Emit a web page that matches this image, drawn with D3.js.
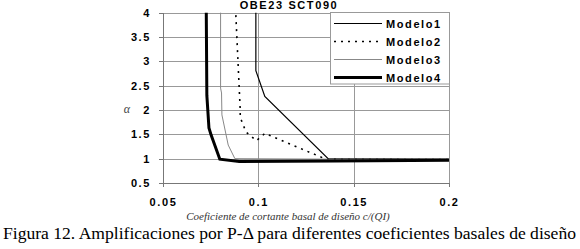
<!DOCTYPE html>
<html>
<head>
<meta charset="utf-8">
<script src="https://cdn.jsdelivr.net/npm/d3@7"></script>
<style>
body { margin: 0; background: white; }
.axis path, .axis line { stroke: #777; shape-rendering: crispEdges; }
.axis text {
  font-family: "Liberation Sans", Arial, sans-serif;
  font-size: 11px;
  font-weight: bold;
  letter-spacing: 1.6px;
  fill: black;
}
.grid line { stroke: #999; shape-rendering: crispEdges; }
.grid path { display: none; }
</style>
</head>
<body>
<script>
const xTicks = [0.05, 0.1, 0.15, 0.2];
const xTickLabels = ["0.05", "0.1", "0.15", "0.2"];
const yTicks = [0.5, 1, 1.5, 2, 2.5, 3, 3.5, 4];
const yTickLabels = ["0.5", "1", "1.5", "2", "2.5", "3", "3.5", "4"];

const names = ["Modelo1", "Modelo2", "Modelo3", "Modelo4"];
// [c/(QI), alpha]
const modelo1 = [[0.0987, 4], [0.0987, 2.81], [0.1034, 2.28], [0.1366, 1.0], [0.2, 0.99]];
const modelo2 = [[0.0882, 3.95], [0.0905, 2.0], [0.0905, 1.85], [0.0935, 1.55], [0.099, 1.37],
                 [0.1035, 1.52], [0.1348, 1.0], [0.14, 0.99], [0.2, 0.98]];
const modelo3 = [[0.0802, 4], [0.0802, 2.45], [0.0807, 2.35], [0.0809, 1.9], [0.0842, 1.28],
                 [0.0877, 1.0], [0.14, 0.99], [0.2, 0.99]];
const modelo4 = [[0.0727, 4], [0.073, 2.3], [0.0741, 1.63], [0.0752, 1.49], [0.0798, 0.99],
                 [0.09, 0.94], [0.14, 0.95], [0.2, 0.97]];

const series = [modelo1, modelo2, modelo3, modelo4];
const styles = [
  {stroke: "black", width: 1.2, dash: null},
  {stroke: "black", width: 1.6, dash: "2,5"},
  {stroke: "#888", width: 1, dash: null},
  {stroke: "black", width: 3, dash: null}
];

const svg = d3.select("body").append("svg")
  .attr("width", 580).attr("height", 249);

const x = d3.scaleLinear().domain([0.05, 0.2]).range([163, 449]);
const y = d3.scaleLinear().domain([0.5, 4]).range([183, 12.7]);

// grid
svg.append("g").attr("class", "grid")
  .attr("transform", "translate(0,183)")
  .call(d3.axisBottom(x).tickValues(xTicks.slice(1)).tickSize(-(183 - 12.7)).tickFormat(""));
svg.append("g").attr("class", "grid")
  .attr("transform", "translate(163,0)")
  .call(d3.axisLeft(y).tickValues(yTicks.slice(1)).tickSize(-(449 - 163)).tickFormat(""));

// axes
svg.append("g").attr("class", "axis")
  .attr("transform", "translate(0,183)")
  .call(d3.axisBottom(x).tickValues(xTicks).tickSize(4).tickSizeOuter(0).tickPadding(11)
    .tickFormat((d, i) => xTickLabels[i]));
svg.append("g").attr("class", "axis")
  .attr("transform", "translate(163,0)")
  .call(d3.axisLeft(y).tickValues(yTicks).tickSize(4).tickSizeOuter(0).tickPadding(8)
    .tickFormat((d, i) => yTickLabels[i]));

const line = d3.line().x(d => x(d[0])).y(d => y(d[1]));

series.forEach((s, i) => {
  svg.append("path")
    .datum(s)
    .attr("fill", "none")
    .attr("stroke", styles[i].stroke)
    .attr("stroke-width", styles[i].width)
    .attr("stroke-dasharray", styles[i].dash)
    .attr("d", line);
});

// legend
const lg = svg.append("g");
lg.append("rect")
  .attr("x", 330.5).attr("y", 12.5).attr("width", 119).attr("height", 71.5)
  .attr("fill", "white").attr("stroke", "#999");
names.forEach((n, i) => {
  const ly = 23.5 + i * 18;
  lg.append("line")
    .attr("x1", 334).attr("x2", 382).attr("y1", ly).attr("y2", ly)
    .attr("stroke", styles[i].stroke)
    .attr("stroke-width", styles[i].width)
    .attr("stroke-dasharray", styles[i].dash);
  lg.append("text")
    .attr("x", 386).attr("y", ly + 4)
    .attr("font-family", "Liberation Sans, Arial, sans-serif")
    .attr("font-size", 11).attr("font-weight", "bold")
    .attr("letter-spacing", "1.6px")
    .text(n);
});

// title
svg.append("text")
  .attr("x", 289).attr("y", 8.5)
  .attr("text-anchor", "middle")
  .attr("font-family", "Liberation Sans, Arial, sans-serif")
  .attr("font-size", 11).attr("font-weight", "bold")
  .attr("letter-spacing", "1.6px")
  .text("OBE23 SCT090");

svg.append("text")
  .attr("x", 127).attr("y", 113)
  .attr("text-anchor", "middle")
  .attr("font-family", "Liberation Serif, serif")
  .attr("font-style", "italic")
  .attr("font-size", 12).attr("fill", "#444")
  .text("α");

svg.append("text")
  .attr("x", 288).attr("y", 220)
  .attr("text-anchor", "middle")
  .attr("font-family", "Liberation Serif, serif")
  .attr("font-style", "italic")
  .attr("font-size", 11).attr("fill", "#333")
  .text("Coeficiente de cortante basal de diseño c/(QI)");

svg.append("text")
  .attr("x", 3).attr("y", 238.5)
  .attr("font-family", "Liberation Serif, serif")
  .attr("font-size", 17.4)
  .attr("textLength", 573)
  .attr("lengthAdjust", "spacingAndGlyphs")
  .text("Figura 12. Amplificaciones por P-Δ para diferentes coeficientes basales de diseño");
</script>
</body>
</html>
